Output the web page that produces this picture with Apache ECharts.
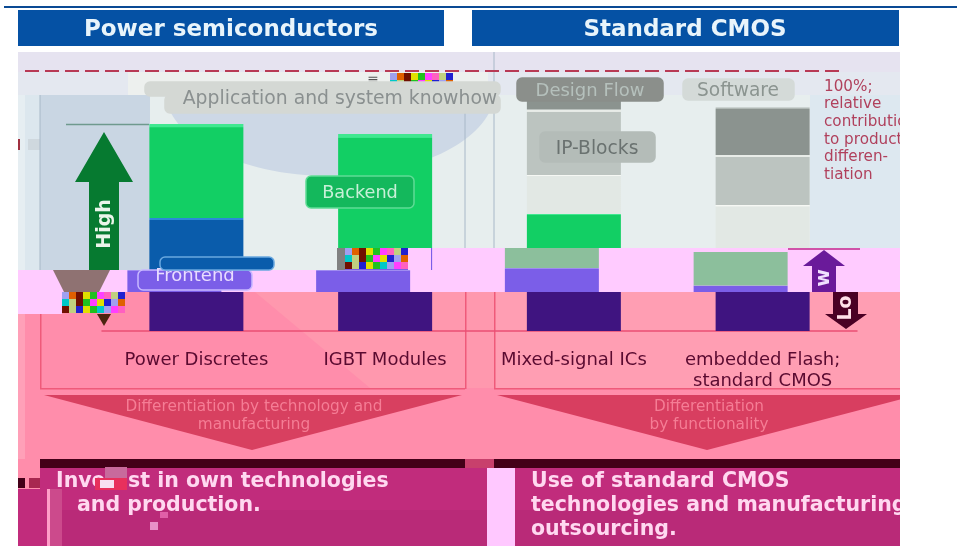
<!DOCTYPE html>
<html>
<head>
<meta charset="utf-8">
<title>Power semiconductors vs standard CMOS</title>
<script src="https://cdn.jsdelivr.net/npm/echarts@6/dist/echarts.min.js"></script>
<style>
html, body { margin: 0; padding: 0; background: #fff; }
#chart { width: 957px; height: 546px; filter: blur(0.6px); }
</style>
</head>
<body>
<div id="chart"></div>
<script>
var categories = ['Power Discretes', 'IGBT Modules', 'Mixed-signal ICs', 'embedded Flash;\nstandard CMOS'];

// main stack, bottom to top (share of the product, top of the scale is 100 for the first bar)
var navyValues = [18.8, 18.8, 18.8, 18.8];
var gapValues = [10.7, 10.7, 21.3, 21.3];
var violetValues = [0, 10.6, 0, 0];
var blueValues = [25.1, 0, 0, 0];
var greenValues = [45.4, 55.1, 16.4, 0];
var lightValues = [0, 0, 18.9, 20.8];
var grayValues = [0, 0, 31.6, 24.1];
var darkGrayValues = [0, 0, 15, 23];

// the torn slice of the picture, sits a bit further left
var shiftBaseValues = [18.8, 18.8, 18.8, 18.8];
var shiftVioletValues = [10.7, 10.7, 11.6, 3.2];
var shiftSageValues = [0, 0, 9.7, 16.2];

var chart = echarts.init(document.getElementById('chart'));

function rect(x, y, w, h, fill, z, r) {
    return { type: 'rect', z: z || 0, silent: true,
        shape: { x: x, y: y, width: w, height: h, r: r || 0 },
        style: { fill: fill } };
}
function box(x, y, w, h, fill, stroke, z) {
    var b = rect(x, y, w, h, fill, z, 5);
    b.style.stroke = stroke;
    b.style.lineWidth = 1.5;
    return b;
}
function poly(points, fill, z) {
    return { type: 'polygon', z: z || 0, silent: true, shape: { points: points }, style: { fill: fill } };
}
function line(x1, y1, x2, y2, color, width, dash) {
    return { type: 'line', z: 1, silent: true,
        shape: { x1: x1, y1: y1, x2: x2, y2: y2 },
        style: { stroke: color, lineWidth: width || 1, lineDash: dash || null } };
}
function txt(s, x, y, size, color, opts) {
    opts = opts || {};
    return { type: 'text', z: opts.z || 12, silent: true, x: x, y: y, rotation: opts.rotation || 0,
        style: { text: s, fill: color, align: opts.align || 'center', verticalAlign: 'middle',
            font: (opts.bold ? 'bold ' : '') + size + 'px "DejaVu Sans"' } };
}

var graphics = [
    // upper background
    rect(18, 95, 882, 175, '#e7eeee'),
    { type: 'ellipse', z: 0, silent: true, shape: { cx: 330, cy: 90, rx: 165, ry: 86 }, style: { fill: '#cdd8e6' } },
    rect(18, 95, 7, 175, '#e6eef2'),
    rect(25, 95, 15, 175, '#dce7ee'),
    rect(40, 95, 110, 175, '#c9d6e3'),
    rect(810, 95, 90, 153, '#dde8f0'),
    rect(18, 139, 2, 11, '#a03040'),
    rect(28, 139, 12, 11, '#cfd8de'),
    rect(0, 0, 957, 52, '#fff'),
    rect(18, 52, 882, 20, '#e6e3f0'),
    rect(18, 72, 882, 23, '#e4e8f0'),
    rect(128, 72, 360, 23, '#edf0ee'),
    line(40, 95, 40, 270, '#a8b8c8', 1),
    line(465, 95, 465, 248, '#a8b8c8', 1),
    line(494, 52, 494, 248, '#a8b8c8', 1),
    line(25, 71, 845, 71, '#b83a55', 2, [14, 6]),
    line(66, 124.5, 149, 124.5, '#6f9a8e', 1.5),

    // header
    rect(4, 6, 953, 2, '#0a4a94'),
    rect(18, 10, 426, 36, '#0551a4'),
    rect(472, 10, 427, 36, '#0551a4'),
    txt('Power semiconductors', 231, 30, 23, '#e8f4fb', { bold: true }),
    txt('Standard CMOS', 685, 30, 23, '#e8f4fb', { bold: true }),

    // pink slices
    rect(408, 248, 492, 44, '#ffcbff'),
    rect(18, 270, 390, 22, '#ffcbff'),
    rect(408, 248, 23, 22, '#ffcbff', 5),
    line(788, 249, 860, 249, '#c02a8c', 1.5),

    // lower background
    rect(18, 292, 882, 167, '#ff8dab'),
    poly([[255, 292], [494, 292], [494, 388], [370, 388]], '#ff98ae'),
    rect(494, 292, 406, 96, '#ff9eb3'),
    rect(18, 292, 7, 167, '#ffa0b8'),
    rect(18, 292, 44, 22, '#ffcbff'),
    rect(18, 459, 22, 30, '#ff8dab'),
    rect(40, 388, 425, 1.5, '#ef5a7a'),
    rect(40, 314, 1.5, 74, '#ef5a7a'),
    rect(465, 292, 1.5, 97, '#ef5a7a'),
    rect(494, 292, 1.5, 97, '#ef5a7a'),
    rect(494, 388, 406, 1.5, '#ef5a7a'),
    poly([[44, 395], [462, 395], [252, 450]], '#d84060'),
    poly([[497, 395], [900, 395], [900, 399.5], [707, 450]], '#d83e60'),
    txt('Differentiation by technology and', 254, 407, 15.3, '#f57d95'),
    txt('manufacturing', 254, 425, 15.3, '#f57d95'),
    txt('Differentiation', 709, 407, 15.3, '#f57d95'),
    txt('by functionality', 709, 425, 15.3, '#f57d95'),

    // bottom strip
    rect(40, 459, 860, 9, '#440018'),
    rect(465, 459, 29, 9, '#c8406c'),
    rect(40, 468, 860, 21, '#c12c7c'),
    rect(18, 489, 882, 57, '#c12c7c'),
    rect(62, 510, 838, 36, '#b92a78'),
    rect(18, 478, 7, 10, '#440018'),
    rect(29, 478, 11, 10, '#a82850'),
    rect(47, 489, 3, 57, '#ff9dc8'),
    rect(50, 489, 12, 57, '#cc4a8c'),
    rect(487, 468, 28, 78, '#ffc8ff'),
    txt('Inve', 56, 482, 20.5, '#ffd8f0', { bold: true, align: 'left' }),
    txt('st in own technologies', 128, 482, 20.5, '#ffd8f0', { bold: true, align: 'left' }),
    txt('and production.', 77, 506, 20.5, '#ffd8f0', { bold: true, align: 'left' }),
    txt('Use of standard CMOS', 531, 482, 20.5, '#ffd8f0', { bold: true, align: 'left' }),
    txt('technologies and manufacturing', 531, 506, 20.5, '#ffd8f0', { bold: true, align: 'left' }),
    txt('outsourcing.', 531, 530, 20.5, '#ffd8f0', { bold: true, align: 'left' }),
    rect(105, 467, 22, 11, '#c86a9c', 13),
    rect(95, 478, 32, 12, '#e8305c', 13),
    rect(100, 480, 14, 8, '#f8e0f0', 13),
    rect(150, 522, 8, 8, '#e890c8', 13),
    rect(160, 512, 8, 6, '#e060a8', 13),

    // arrows
    poly([[104, 132], [133, 182], [119, 182], [119, 270], [89, 270], [89, 182], [75, 182]], '#067a30'),
    txt('High', 105, 224, 19, '#eaf5ea', { bold: true, rotation: Math.PI / 2 }),
    poly([[53, 270], [110, 270], [99, 292], [64, 292]], '#8f7272', 6),
    poly([[97, 314], [111, 314], [104, 326]], '#4d2410', 6),
    poly([[824, 250], [845, 266], [836, 266], [836, 292], [812, 292], [812, 266], [803, 266]], '#6a1a9a', 6),
    poly([[833, 292], [858, 292], [858, 314], [867, 314], [846, 329], [825, 314], [833, 314]], '#4a0024', 6),
    txt('w', 824, 278, 19, '#f0e0ff', { bold: true, rotation: Math.PI / 2, z: 7 }),
    txt('Lo', 846, 308, 19, '#ffe0e8', { bold: true, rotation: Math.PI / 2, z: 7 }),

    // boxes on the bars
    box(165, 95, 335, 18, '#d4d8d4', '#d4d8d4', 9),
    box(145, 82, 355, 14, '#d4d8d4', '#d4d8d4', 8),
    txt('Application and system knowhow', 340, 99, 18.8, '#8a9090'),
    box(306, 176, 108, 32, '#14b85c', '#5fdc95', 9),
    txt('Backend', 360, 193, 17.7, '#c8f0d8'),
    box(517, 78, 146, 23, '#8b8f8b', '#8b8f8b', 9),
    txt('Design Flow', 590, 91, 18, '#b5c0bc'),
    box(683, 79, 111, 21, '#d4dad8', '#d4dad8', 9),
    txt('Software', 738, 91, 18.6, '#8b9490'),
    box(540, 132, 115, 30, '#b4bcb8', '#b4bcb8', 9),
    txt('IP-Blocks', 597, 149, 18.7, '#6a7270'),
    box(138, 270, 114, 20, '#7b5ee8', '#c8b8ff', 9),
    txt('Frontend', 195, 276, 18, '#e8dcff'),
    box(160, 257, 114, 13, '#0a5cab', '#6aa8e0', 13),

    // right hand note
    txt('100%;', 824, 87, 15.2, '#b0405c', { align: 'left' }),
    txt('relative', 824, 104, 15.2, '#b0405c', { align: 'left' }),
    txt('contribution', 824, 122, 15.2, '#b0405c', { align: 'left' }),
    txt('to product', 824, 140, 15.2, '#b0405c', { align: 'left' }),
    txt('differen-', 824, 157, 15.2, '#b0405c', { align: 'left' }),
    txt('tiation', 824, 175, 15.2, '#b0405c', { align: 'left' }),

    // white past the right edge of the picture
    rect(900, 9, 57, 537, '#fff', 20)
];

// blocks of broken pixels
var noiseColors = ['#00c8c8', '#ff60c0', '#e0e000', '#a0a0f0', '#c0d080', '#20c020', '#e06000', '#2020d0', '#ff40ff', '#701000'];
function noise(x, y, cols, rows, size, z) {
    var n = 0;
    for (var j = 0; j < rows; j++) {
        for (var i = 0; i < cols; i++) {
            n = (n + 3 + (i * j) % 4) % noiseColors.length;
            graphics.push(rect(x + i * size, y + j * size, size, size, noiseColors[n], z));
        }
    }
}
noise(390, 73, 9, 3, 7, 7);
noise(345, 248, 9, 3, 7, 7);
noise(62, 292, 9, 3, 7, 7);
graphics.push(rect(390, 248, 18, 22, '#7b5ee8', 6));
graphics.push(rect(337, 248, 8, 22, '#808080', 6));
graphics.push(txt('≡', 373, 80, 14, '#555', { z: 7 }));

function bar(name, values, color, axisIndex, stack, top) {
    return {
        type: 'bar', name: name, stack: stack, data: values,
        xAxisIndex: axisIndex, yAxisIndex: axisIndex,
        barWidth: 94, silent: true, z: 2,
        itemStyle: { color: top ? new echarts.graphic.LinearGradient(0, 0, 0, 1, [
            { offset: 0, color: top }, { offset: 0.03, color: top }, { offset: 0.04, color: color }, { offset: 1, color: color }
        ]) : color }
    };
}

chart.setOption({
    animation: false,
    backgroundColor: '#fff',
    grid: [
        { left: 102, top: 72.25, width: 755, height: 258.75 },
        { left: 80, top: 72.25, width: 755, height: 258.75 }
    ],
    xAxis: [
        { type: 'category', data: categories, gridIndex: 0,
          axisLine: { lineStyle: { color: '#ea4f74', width: 1.5 } }, axisTick: { show: false },
          axisLabel: { color: '#5a0a30', fontSize: 18, fontFamily: 'DejaVu Sans', margin: 19, lineHeight: 21, interval: 0 } },
        { type: 'category', data: categories, gridIndex: 1, show: false }
    ],
    yAxis: [
        { type: 'value', min: 0, max: 125, gridIndex: 0, show: false },
        { type: 'value', min: 0, max: 125, gridIndex: 1, show: false }
    ],
    graphic: { elements: graphics },
    series: [
        bar('Base', navyValues, '#3f1480', 0, 'main'),
        bar('Gap', gapValues, 'rgba(0,0,0,0)', 0, 'main'),
        bar('Frontend slice', violetValues, '#7b5ee8', 0, 'main'),
        bar('Frontend', blueValues, '#0a5cab', 0, 'main', '#2a8ad8'),
        bar('Backend', greenValues, '#12cf64', 0, 'main', '#40e890'),
        bar('Software low', lightValues, '#e2e8e4', 0, 'main', '#f6f8f4'),
        bar('IP-Blocks', grayValues, '#bcc4c0', 0, 'main', '#e8ece8'),
        bar('Design Flow', darkGrayValues, '#8b938f', 0, 'main', '#b0b8b4'),
        bar('Shift base', shiftBaseValues, 'rgba(0,0,0,0)', 1, 'shift'),
        bar('Shift frontend', shiftVioletValues, '#7b5ee8', 1, 'shift', '#a08cf0'),
        bar('Shift backend', shiftSageValues, '#8cbf9c', 1, 'shift')
    ]
});
</script>
</body>
</html>
